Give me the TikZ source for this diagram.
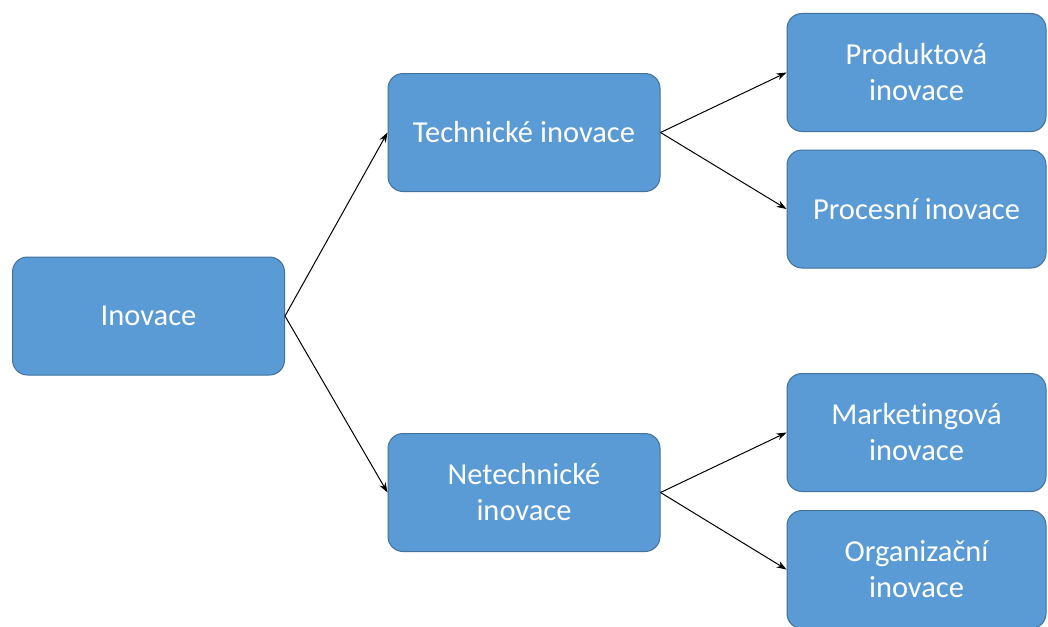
\documentclass[tikz,border=0pt]{standalone}
\usepackage{fontspec}
\setmainfont[Ligatures={NoCommon}]{Carlito}
\usetikzlibrary{arrows.meta}
\definecolor{boxfill}{HTML}{5B9BD5}
\definecolor{boxline}{HTML}{41719C}
\tikzset{
  box/.style={draw=boxline, line width=1pt, fill=boxfill, rounded corners=15pt,
    minimum width=272pt, minimum height=118pt, inner sep=0pt, align=center,
    text=white, font=\fontsize{30.5}{36}\selectfont},
  rbox/.style={box, minimum width=259pt},
  conn/.style={draw=black, line width=1pt, -{Stealth[length=10pt,width=7pt]}}
}
\begin{document}
\begin{tikzpicture}[x=1pt,y=-1pt]
\useasboundingbox (0,0) rectangle (1048,626);
\clip (0,0) rectangle (1048,626);
\fill[white] (0,0) rectangle (1048,626);
\node[box] (ino) at (148.5,316) {Inovace};
\node[box] (tech) at (524,132.5) {Technické inovace};
\node[box] (netech) at (524,492.5) {Netechnické\\inovace};
\node[rbox] (prod) at (916.5,72.5) {Produktová\\inovace};
\node[rbox] (proc) at (916.5,209) {Procesní inovace};
\node[rbox] (mark) at (916.5,432.5) {Marketingová\\inovace};
\node[rbox] (org) at (916.5,569.5) {Organizační\\inovace};
\draw[conn] (ino.east) -- (tech.west);
\draw[conn] (ino.east) -- (netech.west);
\draw[conn] (tech.east) -- (prod.west);
\draw[conn] (tech.east) -- (proc.west);
\draw[conn] (netech.east) -- (mark.west);
\draw[conn] (netech.east) -- (org.west);
\end{tikzpicture}
\end{document}
